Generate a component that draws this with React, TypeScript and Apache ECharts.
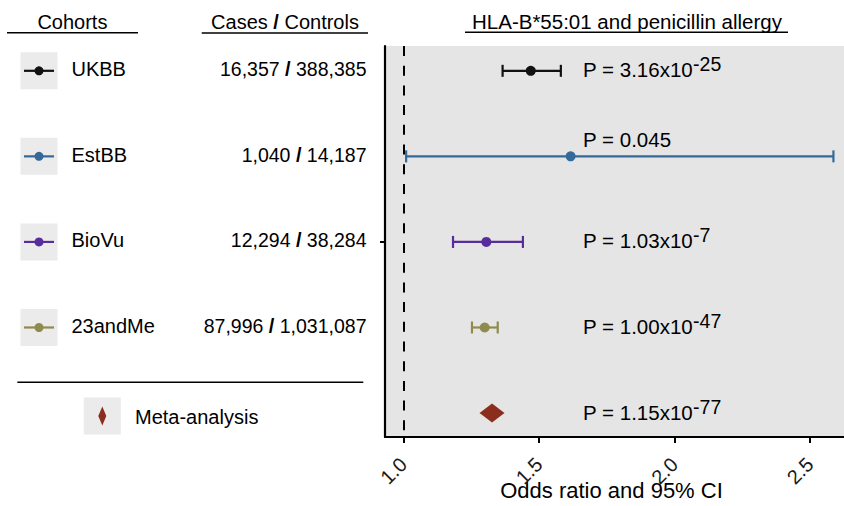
import React, { useEffect, useRef } from 'react';
import * as echarts from 'echarts';

// ---------------- data ----------------
const cohorts = ['UKBB', 'EstBB', 'BioVu', '23andMe'];
const cases = ['16,357', '1,040', '12,294', '87,996'];
const controls = ['388,385', '14,187', '38,284', '1,031,087'];
const oddsRatio = [1.47, 1.617, 1.306, 1.3];
const ciLower = [1.366, 1.01, 1.183, 1.253];
const ciUpper = [1.581, 2.587, 1.441, 1.348];
const cohortColors = ['#111111', '#34699a', '#582c9c', '#8f8b4e'];
const metaLabel = 'Meta-analysis';
const metaOddsRatio = 1.327;
const metaColor = '#8b2e1e';
const pMantissa = ['3.16', '0.045', '1.03', '1.00', '1.15'];
const pExponent = ['-25', '', '-7', '-47', '-77'];
const xTicks = [1.0, 1.5, 2.0, 2.5];
const headers = ['Cohorts', 'Cases / Controls', 'HLA-B*55:01 and penicillin allergy'];
const xAxisTitle = 'Odds ratio and 95% CI';
const nullValue = 1.0;

// ---------------- layout ----------------
const FONT = '"Liberation Sans", Arial, Helvetica, sans-serif';
const GRID_TOP = 46;
const GRID_H = 391;
const PLOT_LEFT = 385;
const Y_MIN = -0.29;
const Y_MAX = 4.28;
const X_MIN = 0.932;
const X_MAX = 2.626;
const P_X = 1.663;
const META_ROW = 4;

const txt = (extra: any) => ({ fontFamily: FONT, fill: '#000', ...extra });

function buildOption(): any {
  const tableData = [0, 1, 2, 3, 4].map((r) => [0, r]);
  const tableSeries = {
    type: 'custom',
    xAxisIndex: 1,
    yAxisIndex: 1,
    silent: true,
    data: tableData,
    encode: { x: 0, y: 1 },
    renderItem: (params: any, api: any) => {
      const i = params.dataIndex;
      const row = api.value(1);
      if (i < cohorts.length) {
        const [kx, ky] = api.coord([39, row]);
        const [nx] = api.coord([71.5, row]);
        const [cx] = api.coord([366.5, row]);
        const color = cohortColors[i];
        return {
          type: 'group',
          children: [
            { type: 'rect', shape: { x: kx - 18.5, y: ky - 18.5, width: 37, height: 37 }, style: { fill: '#ebebeb' } },
            { type: 'line', shape: { x1: kx - 15, y1: ky, x2: kx + 15, y2: ky }, style: { stroke: color, lineWidth: 2.2 } },
            { type: 'circle', shape: { cx: kx, cy: ky, r: 4.5 }, style: { fill: color } },
            { type: 'text', x: nx, y: ky - 1.5, style: txt({ text: cohorts[i], fontSize: 20, align: 'left', verticalAlign: 'middle' }) },
            {
              type: 'text',
              x: cx,
              y: ky - 1.5,
              style: txt({
                text: `${cases[i]} {b|/} ${controls[i]}`,
                fontSize: 19.5,
                align: 'right',
                verticalAlign: 'middle',
                rich: { b: { fontFamily: FONT, fontSize: 20, fontWeight: 'bold', fill: '#000' } },
              }),
            },
          ],
        };
      }
      const [kx, ky] = api.coord([102.3, row]);
      const [nx] = api.coord([135, row]);
      return {
        type: 'group',
        children: [
          { type: 'rect', shape: { x: kx - 18.5, y: ky - 15.5, width: 37, height: 37 }, style: { fill: '#ebebeb' } },
          {
            type: 'polygon',
            shape: { points: [[kx, ky - 6.5], [kx + 4, ky + 3], [kx, ky + 12.5], [kx - 4, ky + 3]] },
            style: { fill: metaColor },
          },
          { type: 'text', x: nx, y: ky + 3.5, style: txt({ text: metaLabel, fontSize: 20, align: 'left', verticalAlign: 'middle' }) },
        ],
      };
    },
  };

  const errorBarSeries = {
    type: 'custom',
    silent: true,
    data: cohorts.map((_, i) => [ciLower[i], ciUpper[i], i]),
    encode: { x: [0, 1], y: 2 },
    renderItem: (params: any, api: any) => {
      const lo = api.coord([api.value(0), api.value(2)]);
      const hi = api.coord([api.value(1), api.value(2)]);
      const c = cohortColors[params.dataIndex];
      const s = { stroke: c, lineWidth: 2.2 };
      return {
        type: 'group',
        children: [
          { type: 'line', shape: { x1: lo[0], y1: lo[1], x2: hi[0], y2: hi[1] }, style: s },
          { type: 'line', shape: { x1: lo[0], y1: lo[1] - 6, x2: lo[0], y2: lo[1] + 6 }, style: s },
          { type: 'line', shape: { x1: hi[0], y1: hi[1] - 6, x2: hi[0], y2: hi[1] + 6 }, style: s },
        ],
      };
    },
  };

  const pointSeries = {
    type: 'scatter',
    silent: true,
    symbolSize: 10,
    data: oddsRatio.map((v, i) => ({ value: [v, i], itemStyle: { color: cohortColors[i], opacity: 1 } })),
    markLine: {
      silent: true,
      symbol: ['none', 'none'],
      label: { show: false },
      lineStyle: { type: [10, 9.7], color: '#000', width: 2 },
      data: [{ xAxis: nullValue }],
    },
  };

  const metaSeries = {
    type: 'scatter',
    silent: true,
    symbol: 'diamond',
    symbolSize: [25, 19],
    itemStyle: { color: metaColor, opacity: 1 },
    data: [[metaOddsRatio, META_ROW]],
  };

  const pSeries = {
    type: 'custom',
    silent: true,
    data: pMantissa.map((_, i) => [P_X, i]),
    encode: { x: 0, y: 1 },
    renderItem: (params: any, api: any) => {
      const i = params.dataIndex;
      const [x, y] = api.coord([api.value(0), api.value(1)]);
      const dy = i === 1 ? -19 : -3.5;
      const exp = pExponent[i];
      const text = exp ? `{m|P = ${pMantissa[i]}x10}{s|${exp}}` : `{m|P = ${pMantissa[i]}}`;
      return {
        type: 'text',
        x,
        y: y + dy,
        style: {
          text,
          align: 'left',
          verticalAlign: 'middle',
          fontFamily: FONT,
          rich: {
            m: { fontFamily: FONT, fontSize: 20.5, fill: '#000', lineHeight: 26, verticalAlign: 'bottom' },
            s: { fontFamily: FONT, fontSize: 19.5, fill: '#000', verticalAlign: 'top' },
          },
        },
      };
    },
  };

  const line = (x1: number, y1: number, x2: number, y2: number) => ({
    type: 'line',
    silent: true,
    shape: { x1, y1, x2, y2 },
    style: { stroke: '#000', lineWidth: 1.6 },
  });

  return {
    animation: false,
    grid: [
      {
        left: PLOT_LEFT, right: 0, top: GRID_TOP, height: GRID_H,
        show: true, backgroundColor: '#e5e5e5', borderWidth: 0,
        containLabel: false, outerBoundsMode: 'none',
      },
      { left: 0, width: PLOT_LEFT, top: GRID_TOP, height: GRID_H, show: false, containLabel: false, outerBoundsMode: 'none' },
    ],
    xAxis: [
      {
        gridIndex: 0,
        type: 'value',
        min: X_MIN,
        max: X_MAX,
        axisLine: { show: true, onZero: false, lineStyle: { color: '#000', width: 2.2 } },
        axisTick: { show: true, customValues: xTicks, length: 6, lineStyle: { color: '#000', width: 2 } },
        axisLabel: {
          show: true,
          customValues: xTicks,
          rotate: 45,
          formatter: (v: number) => v.toFixed(1),
          fontFamily: FONT,
          fontSize: 20,
          color: '#1a1a1a',
          margin: 24,
          padding: [19, 0, 0, 0],
        },
        splitLine: { show: false },
      },
      { gridIndex: 1, type: 'value', min: 0, max: PLOT_LEFT, show: false },
    ],
    yAxis: [
      {
        gridIndex: 0,
        type: 'value',
        min: Y_MIN,
        max: Y_MAX,
        inverse: true,
        axisLine: { show: true, onZero: false, lineStyle: { color: '#000', width: 2.2 } },
        axisTick: { show: true, customValues: [2], length: 5, lineStyle: { color: '#000', width: 2 } },
        axisLabel: { show: false },
        splitLine: { show: false },
      },
      { gridIndex: 1, type: 'value', min: Y_MIN, max: Y_MAX, inverse: true, show: false },
    ],
    graphic: [
      { type: 'text', x: 72.4, y: 21.5, silent: true, style: txt({ text: headers[0], fontSize: 20, align: 'center', verticalAlign: 'middle' }) },
      line(7, 32.7, 138, 32.7),
      {
        type: 'text',
        x: 285,
        y: 21.5,
        silent: true,
        style: txt({
          text: headers[1].replace('/', '{b|/}'),
          fontSize: 20,
          align: 'center',
          verticalAlign: 'middle',
          rich: { b: { fontFamily: FONT, fontSize: 20, fontWeight: 'bold', fill: '#000' } },
        }),
      },
      line(201.7, 33, 368, 33),
      { type: 'text', x: 627, y: 21.5, silent: true, style: txt({ text: headers[2], fontSize: 20.5, align: 'center', verticalAlign: 'middle' }) },
      line(465, 32.3, 788, 32.3),
      line(17.3, 382.3, 363.3, 382.3),
      { type: 'text', x: 611.5, y: 490, silent: true, style: txt({ text: xAxisTitle, fontSize: 22, align: 'center', verticalAlign: 'middle' }) },
    ],
    series: [tableSeries, errorBarSeries, pointSeries, metaSeries, pSeries],
  };
}

export default function App() {
  const ref = useRef<HTMLDivElement>(null);
  useEffect(() => {
    if (!ref.current) return;
    const chart = echarts.init(ref.current, null, { renderer: 'svg' });
    chart.setOption(buildOption());
    return () => chart.dispose();
  }, []);
  return (
    <div
      ref={ref}
      style={{ position: 'fixed', left: 0, top: 0, width: 844, height: 506, background: '#ffffff' }}
    />
  );
}
